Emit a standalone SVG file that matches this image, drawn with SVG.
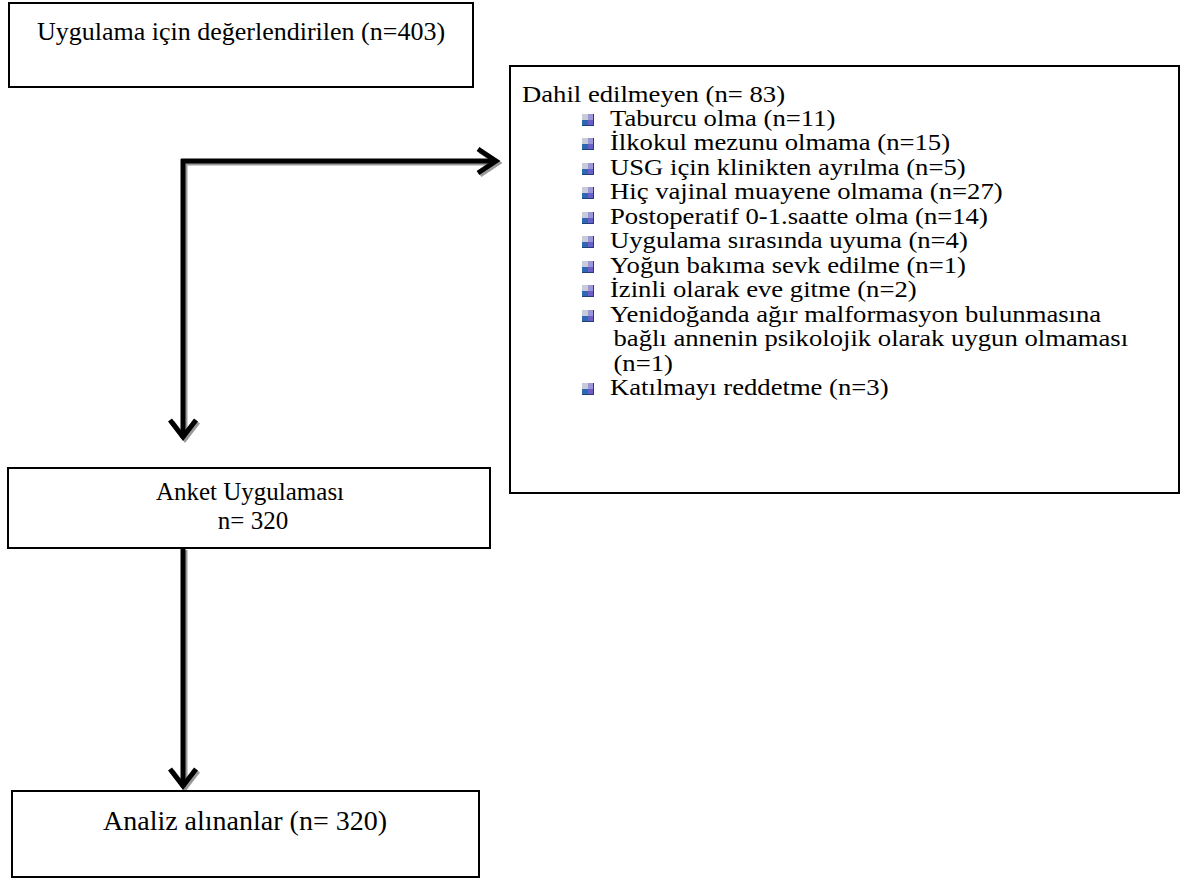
<svg xmlns="http://www.w3.org/2000/svg" width="1181" height="879" viewBox="0 0 1181 879">
<style>
.box{fill:#fff;stroke:#000;stroke-width:2}
.t{font-family:"Liberation Serif","Times New Roman",serif;font-size:27px;fill:#000}
.h{font-size:26px}
.a{font-size:28px}
.k{font-size:25px}
.l{font-size:23px}
.ln{fill:none;stroke:#000;stroke-width:5;stroke-linejoin:miter}
.sh{fill:none;stroke:#9a9a9a;stroke-width:5;stroke-linejoin:miter}
</style>
<defs>
<symbol id="bul" viewBox="0 0 12 12">
<rect x="0" y="0" width="12" height="12" fill="#1f3f7a"/>
<rect x="0" y="0" width="6" height="6" fill="#c8ccd8"/>
<rect x="6" y="0" width="5" height="6" fill="#9b96d8"/>
<rect x="0" y="6" width="6" height="5" fill="#2f68b0"/>
<rect x="6" y="6" width="5" height="5" fill="#6a5fc8"/>
</symbol>
</defs>
<g id="connectors">
<g transform="translate(2,2)">
<path class="sh" d="M183,160 V438"/>
<path class="sh" d="M170,420 L183,437 L196,420"/>
<path class="sh" d="M181,161 H495"/>
<path class="sh" d="M478,149 L496,161 L478,173"/>
<path class="sh" d="M183,548 V787"/>
<path class="sh" d="M170,769 L183,786 L196,769"/>
</g>
<path class="ln" d="M183,159 V438"/>
<path class="ln" d="M170,420 L183,437 L196,420"/>
<path class="ln" d="M181,161 H495"/>
<path class="ln" d="M478,149 L496,161 L478,173"/>
<path class="ln" d="M183,548 V787"/>
<path class="ln" d="M170,769 L183,786 L196,769"/>
</g>
<g id="n1">
<rect class="box" x="9" y="3" width="464" height="84"/>
<text class="t h" x="241" y="40" text-anchor="middle">Uygulama için değerlendirilen (n=403)</text>
</g>
<g id="n2">
<rect class="box" x="510" y="66" width="669" height="427"/>
<g transform="matrix(1.16,0,0,1,-83.52,0)">
<text class="t l" x="522" y="102">Dahil edilmeyen (n= 83)</text>
</g>
<use href="#bul" x="582" y="114" width="12" height="12"/>
<use href="#bul" x="582" y="138" width="12" height="12"/>
<use href="#bul" x="582" y="163" width="12" height="12"/>
<use href="#bul" x="582" y="187" width="12" height="12"/>
<use href="#bul" x="582" y="212" width="12" height="12"/>
<use href="#bul" x="582" y="236" width="12" height="12"/>
<use href="#bul" x="582" y="261" width="12" height="12"/>
<use href="#bul" x="582" y="285" width="12" height="12"/>
<use href="#bul" x="582" y="310" width="12" height="12"/>
<use href="#bul" x="582" y="383" width="12" height="12"/>
<g transform="matrix(1.16,0,0,1,-97.6,0)">
<text class="t l" x="610" y="126">Taburcu olma (n=11)</text>
<text class="t l" x="610" y="150">İlkokul mezunu olmama (n=15)</text>
<text class="t l" x="610" y="175">USG için klinikten ayrılma (n=5)</text>
<text class="t l" x="610" y="199">Hiç vajinal muayene olmama (n=27)</text>
<text class="t l" x="610" y="224">Postoperatif 0-1.saatte olma (n=14)</text>
<text class="t l" x="610" y="248">Uygulama sırasında uyuma (n=4)</text>
<text class="t l" x="610" y="273">Yoğun bakıma sevk edilme (n=1)</text>
<text class="t l" x="610" y="297">İzinli olarak eve gitme (n=2)</text>
<text class="t l" x="610" y="322">Yenidoğanda ağır malformasyon bulunmasına</text>
<text class="t l" x="613" y="346">bağlı annenin psikolojik olarak uygun olmaması</text>
<text class="t l" x="613" y="371">(n=1)</text>
<text class="t l" x="610" y="395">Katılmayı reddetme (n=3)</text>
</g>
</g>
<g id="n3">
<rect class="box" x="8" y="468" width="482" height="80"/>
<text class="t k" x="250" y="500" text-anchor="middle">Anket Uygulaması</text>
<text class="t k" x="253" y="529" text-anchor="middle">n= 320</text>
</g>
<g id="n4">
<rect class="box" x="12" y="791" width="467" height="86"/>
<text class="t a" x="245" y="830" text-anchor="middle">Analiz alınanlar (n= 320)</text>
</g>
</svg>
